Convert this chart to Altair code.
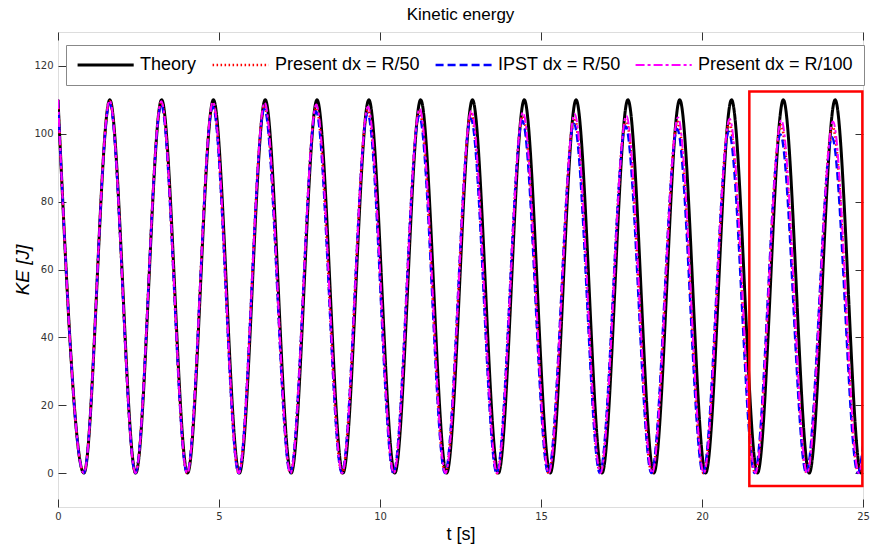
import altair as alt
import pandas as pd

series_names = ["Theory", "Present dx = R/50", "IPST dx = R/50", "Present dx = R/100"]
series_colors = ["#000000", "#ff0000", "#0000ff", "#ff00ff"]

theory_t = [0, 0.805, 1.609, 2.414, 3.218, 4.023, 4.827, 5.632, 6.436, 7.241, 8.045,
            8.850, 9.654, 10.459, 11.263, 12.068, 12.872, 13.677, 14.481, 15.286, 16.090,
            16.895, 17.699, 18.504, 19.308, 20.113, 20.917, 21.722, 22.526, 23.331, 24.135,
            24.940, 25.0]
theory_ke = [110, 0, 110, 0, 110, 0, 110, 0, 110, 0, 110, 0, 110, 0, 110, 0,
             110, 0, 110, 0, 110, 0, 110, 0, 110, 0, 110, 0, 110, 0, 110, 0, 1.5]

red_t = [0, 0.802, 1.604, 2.406, 3.208, 4.010, 4.812, 5.613, 6.415, 7.217, 8.019,
         8.821, 9.623, 10.425, 11.227, 12.029, 12.831, 13.633, 14.435, 15.236, 16.038,
         16.840, 17.642, 18.444, 19.246, 20.048, 20.850, 21.652, 22.454, 23.256, 24.058,
         24.860, 25.0]
red_ke = [110, 0, 109.6, 0, 109.2, 0, 108.7, 0, 108.2, 0, 107.6, 0, 107.0, 0, 106.4, 0,
          105.8, 0, 105.2, 0, 104.6, 0, 104.0, 0, 103.5, 0, 103.0, 0, 102.5, 0, 102.0, 0, 6]

blue_t = [0, 0.801, 1.603, 2.404, 3.205, 4.006, 4.808, 5.609, 6.410, 7.211, 8.013,
          8.814, 9.615, 10.417, 11.218, 12.019, 12.820, 13.622, 14.423, 15.224, 16.025,
          16.827, 17.628, 18.429, 19.230, 20.032, 20.833, 21.634, 22.435, 23.237, 24.038,
          24.839, 25.0]
blue_ke = [110, 0, 109.0, 0, 108.5, 0, 108.0, 0, 107.3, 0, 106.6, 0, 105.9, 0, 105.2, 0,
           104.5, 0, 103.8, 0, 103.0, 0, 102.2, 0, 101.4, 0, 100.6, 0, 99.8, 0, 99.0, 0, 8]

magenta_t = [0, 0.802, 1.604, 2.407, 3.209, 4.011, 4.813, 5.616, 6.418, 7.220, 8.022,
             8.825, 9.627, 10.429, 11.231, 12.034, 12.836, 13.638, 14.440, 15.243, 16.045,
             16.847, 17.649, 18.452, 19.254, 20.056, 20.858, 21.660, 22.463, 23.265, 24.067,
             24.869, 25.0]
magenta_ke = [110, 0, 109.8, 0, 109.6, 0, 109.4, 0, 109.2, 0, 108.6, 0, 108.0, 0, 107.4, 0,
              106.8, 0, 106.3, 0, 105.8, 0, 105.3, 0, 104.8, 0, 104.4, 0, 104.0, 0, 103.6, 0, 5]

box_t = [21.47]
box_t2 = [24.98]
box_ke = [-3.8]
box_ke2 = [112.5]

x_ticks = [0, 5, 10, 15, 20, 25]
y_ticks = [0, 20, 40, 60, 80, 100, 120]

frames = []
for name, ts, ks in zip(series_names,
                        [theory_t, red_t, blue_t, magenta_t],
                        [theory_ke, red_ke, blue_ke, magenta_ke]):
    frames.append(pd.DataFrame({"t": ts, "ke": ks, "series": name}))
df = pd.concat(frames, ignore_index=True)
box_df = pd.DataFrame({"t1": box_t, "t2": box_t2, "k1": box_ke, "k2": box_ke2})

xs = alt.Scale(domain=[0, 25], nice=False, zero=False)
ys = alt.Scale(domain=[-10, 130], nice=False, zero=False)

legend = alt.Legend(title=None, orient="none", legendX=8, legendY=13, direction="horizontal",
                    symbolType="M-1.5,0H8.5", symbolSize=126, labelFont="Liberation Sans",
                    labelFontSize=18, labelColor="black", labelLimit=400, columnPadding=10,
                    labelOffset=45, strokeColor="#888888", fillColor="white", padding=11)

color_enc = alt.Color("series:N", scale=alt.Scale(domain=series_names, range=series_colors),
                      legend=legend)
dash_enc = alt.StrokeDash("series:N", scale=alt.Scale(domain=series_names,
                          range=[[1, 0], [1.5, 2.5], [8, 4], [9, 3, 3, 3]]), legend=legend)
width_enc = alt.StrokeWidth("series:N", scale=alt.Scale(domain=series_names,
                            range=[3, 2, 4, 4]), legend=legend)

ax_bottom = alt.Axis(orient="bottom", values=x_ticks, offset=-8, tickSize=8, domain=False,
                     grid=False, labelPadding=4, labelFlush=False, labelFont="DejaVu Sans",
                     labelFontSize=10, labelColor="#333333", tickColor="#333333",
                     title="t [s]", titleFont="Liberation Sans", titleFontSize=18,
                     titleFontWeight="normal", titleColor="black", titlePadding=4)
ax_left = alt.Axis(orient="left", values=y_ticks, offset=-8, tickSize=8, domain=False,
                   grid=False, labelPadding=5, labelFont="DejaVu Sans", labelFontSize=10,
                   labelColor="#333333", tickColor="#333333", title="KE [J]",
                   titleFont="Liberation Sans", titleFontSize=19, titleFontStyle="italic",
                   titleFontWeight="normal", titleColor="black", titlePadding=1)
ax_top = alt.Axis(orient="top", values=x_ticks, offset=-8, tickSize=8, domain=False,
                  grid=False, labels=False, title=None, tickColor="#333333")
ax_right = alt.Axis(orient="right", values=y_ticks, offset=-8, tickSize=8, domain=False,
                    grid=False, labels=False, title=None, tickColor="#333333")

layers = []
for i, name in enumerate(series_names):
    if i == 0:
        xe = alt.X("t:Q", scale=xs, axis=ax_bottom)
        ye = alt.Y("ke:Q", scale=ys, axis=ax_left)
    else:
        xe = alt.X("t:Q", scale=xs, axis=None)
        ye = alt.Y("ke:Q", scale=ys, axis=None)
    layers.append(
        alt.Chart(df).transform_filter(alt.datum.series == name)
        .mark_line(interpolate="monotone", clip=True)
        .encode(x=xe, y=ye, color=color_enc, strokeDash=dash_enc, strokeWidth=width_enc)
    )

box = alt.Chart(box_df).mark_rect(fillOpacity=0, stroke="#ff0000", strokeWidth=2.5).encode(
    x=alt.X("t1:Q", scale=xs, axis=ax_top),
    x2="t2:Q",
    y=alt.Y("k1:Q", scale=ys, axis=ax_right),
    y2="k2:Q",
)

chart = alt.layer(*layers, box).resolve_axis(x="independent", y="independent").properties(
    width=805, height=475,
    autosize=alt.AutoSizeParams(type="none"),
    padding={"left": 58, "top": 32, "right": 7, "bottom": 42},
    title=alt.TitleParams("Kinetic energy", font="Liberation Sans", fontSize=17,
                          fontWeight="normal", color="black", anchor="middle", offset=8),
).configure_view(stroke="#444444", strokeWidth=1).configure(background="white")

chart.save("out.html", embed_options={"renderer": "svg", "actions": False})
